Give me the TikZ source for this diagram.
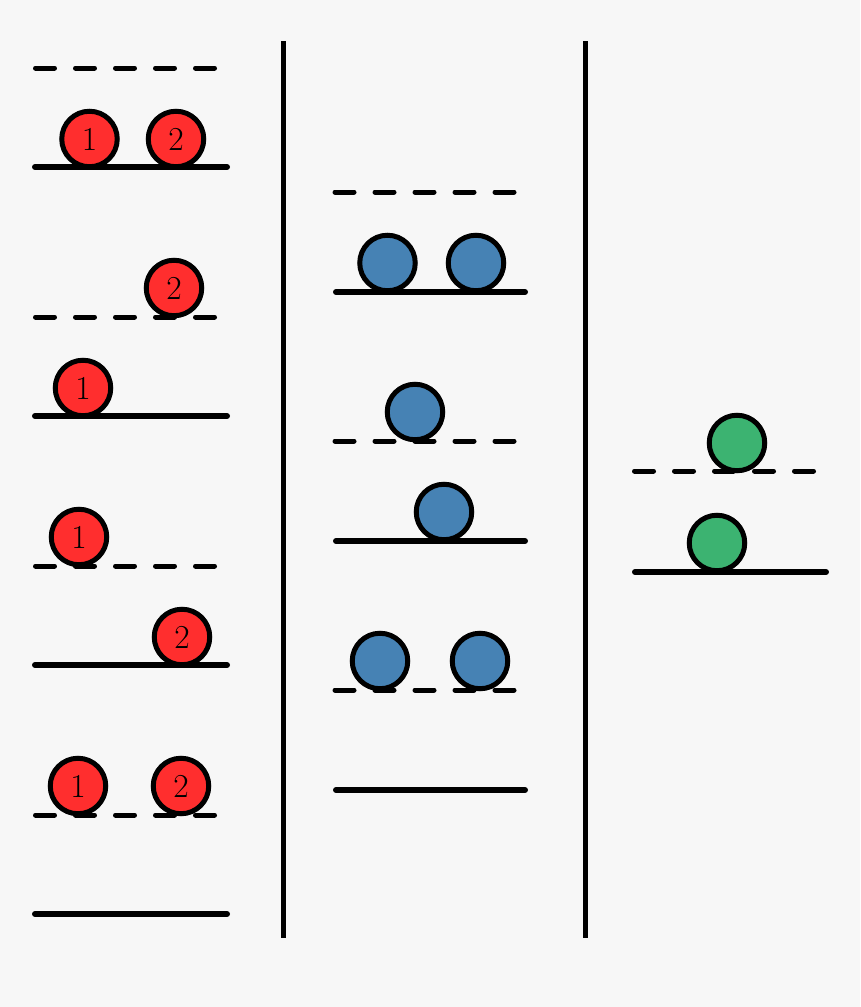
\documentclass[tikz,border=0pt]{standalone}
\usepackage{tikz}

\definecolor{bg}{HTML}{F7F7F7}
\definecolor{ballred}{HTML}{FF2E2E}
\definecolor{ballblue}{HTML}{4682B4}
\definecolor{ballgreen}{HTML}{3CB371}

\begin{document}
\begin{tikzpicture}[x=1pt,y=-1pt,
  level/.style={line width=6pt,line cap=round},
  empty/.style={line width=5pt,line cap=round,dash pattern=on 19pt off 21pt},
  wall/.style={line width=5pt},
  ball/.style={circle,draw,line width=5pt,minimum size=55.5pt,inner sep=0pt,
    font=\fontsize{33.5}{33.5}\selectfont}]

\fill[bg] (0,0) rectangle (860,1007);

% separators
\draw[wall] (283,41) -- (283,938);
\draw[wall] (585,41) -- (585,938);

% left column: two numbered balls
\foreach \y in {68,317,566,815}{
  \draw[empty] (35.5,\y) -- (214.5,\y);
  \draw[level] (35,\y+99) -- (227,\y+99);
}
\node[ball,fill=ballred] (aone) at (89.5,139) {1};
\node[ball,fill=ballred] (atwo) at (176,139) {2};

\node[ball,fill=ballred] (btwo) at (174,288) {2};
\node[ball,fill=ballred] (bone) at (83,388) {1};

\node[ball,fill=ballred] (cone) at (79,537) {1};
\node[ball,fill=ballred] (ctwo) at (182,637) {2};

\node[ball,fill=ballred] (done) at (78,786) {1};
\node[ball,fill=ballred] (dtwo) at (181,786) {2};

% middle column
\foreach \y in {192,441,690}{
  \draw[empty] (335,\y) -- (514,\y);
  \draw[level] (336,\y+100) -- (525,\y+100);
}
\node[ball,fill=ballblue] (ea) at (387.5,263) {};
\node[ball,fill=ballblue] (eb) at (476,263) {};

\node[ball,fill=ballblue] (fa) at (415,412) {};
\node[ball,fill=ballblue] (fb) at (444,512) {};

\node[ball,fill=ballblue] (ga) at (380,661) {};
\node[ball,fill=ballblue] (gb) at (480,661) {};

% right column
\draw[empty] (634.5,471) -- (813.5,471);
\draw[level] (635,572) -- (826,572);
\node[ball,fill=ballgreen] (ha) at (737,443) {};
\node[ball,fill=ballgreen] (hb) at (717,543) {};

\end{tikzpicture}
\end{document}
